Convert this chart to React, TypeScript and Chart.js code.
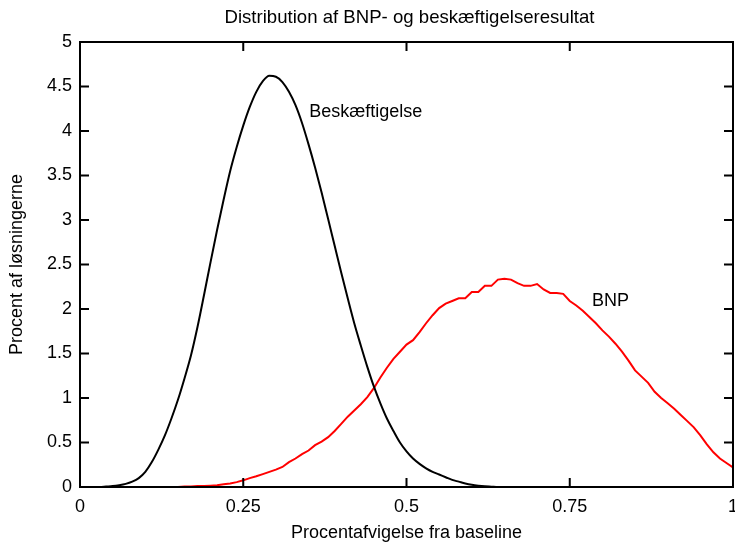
import React, { useEffect, useRef } from "react";
import { Chart, registerables } from "chart.js";

Chart.register(...registerables);

const TITLE = "Distribution af BNP- og beskæftigelseresultat";
const X_TITLE = "Procentafvigelse fra baseline";
const Y_TITLE = "Procent af løsningerne";

const X_VALUES = [
  0.0, 0.01, 0.02, 0.03, 0.04, 0.05, 0.06, 0.07, 0.08, 0.09,
  0.1, 0.11, 0.12, 0.13, 0.14, 0.15, 0.16, 0.17, 0.18, 0.19,
  0.2, 0.21, 0.22, 0.23, 0.24, 0.25, 0.26, 0.27, 0.28, 0.29,
  0.3, 0.31, 0.32, 0.33, 0.34, 0.35, 0.36, 0.37, 0.38, 0.39,
  0.4, 0.41, 0.42, 0.43, 0.44, 0.45, 0.46, 0.47, 0.48, 0.49,
  0.5, 0.51, 0.52, 0.53, 0.54, 0.55, 0.56, 0.57, 0.58, 0.59,
  0.6, 0.61, 0.62, 0.63, 0.64, 0.65, 0.66, 0.67, 0.68, 0.69,
  0.7, 0.71, 0.72, 0.73, 0.74, 0.75, 0.76, 0.77, 0.78, 0.79,
  0.8, 0.81, 0.82, 0.83, 0.84, 0.85, 0.86, 0.87, 0.88, 0.89,
  0.9, 0.91, 0.92, 0.93, 0.94, 0.95, 0.96, 0.97, 0.98, 0.99,
  1.0,
];

const BESKAEFTIGELSE = [
  0, 0, 0, 0, 0.005, 0.01, 0.02, 0.035, 0.06, 0.1,
  0.17, 0.28, 0.42, 0.58, 0.77, 0.98, 1.22, 1.48, 1.8, 2.16,
  2.53, 2.89, 3.23, 3.55, 3.82, 4.06, 4.27, 4.44, 4.56, 4.62,
  4.61, 4.55, 4.44, 4.29, 4.09, 3.85, 3.59, 3.31, 3.01, 2.71,
  2.41, 2.12, 1.84, 1.59, 1.35, 1.13, 0.94, 0.77, 0.63, 0.5,
  0.4, 0.32, 0.26, 0.21, 0.17, 0.14, 0.11, 0.08, 0.06, 0.04,
  0.025, 0.015, 0.008, 0.004, 0, 0, 0, 0, 0, 0,
  0, 0, 0, 0, 0, 0, 0, 0, 0, 0,
  0, 0, 0, 0, 0, 0, 0, 0, 0, 0,
  0, 0, 0, 0, 0, 0, 0, 0, 0, 0,
  0,
];

const BNP = [
  0, 0, 0, 0, 0, 0, 0, 0, 0, 0,
  0, 0, 0, 0, 0, 0, 0.005, 0.005, 0.01, 0.01,
  0.015, 0.02, 0.03, 0.04, 0.055, 0.075, 0.1, 0.12, 0.145, 0.17,
  0.195, 0.225, 0.28, 0.32, 0.37, 0.41, 0.47, 0.51, 0.56, 0.63,
  0.71, 0.79, 0.86, 0.93, 1.01, 1.11, 1.23, 1.34, 1.44, 1.52,
  1.6, 1.65, 1.74, 1.84, 1.93, 2.01, 2.06, 2.09, 2.12, 2.12,
  2.19, 2.19, 2.26, 2.26, 2.33, 2.34, 2.33, 2.29, 2.26, 2.26,
  2.28, 2.22, 2.18, 2.18, 2.17, 2.09, 2.04, 1.98, 1.91, 1.84,
  1.76, 1.69, 1.61, 1.52, 1.42, 1.31, 1.24, 1.17, 1.07, 1.0,
  0.94, 0.88, 0.81, 0.74, 0.67, 0.58, 0.48, 0.39, 0.32, 0.27,
  0.22,
];

const X_TICK_LABELS = ["0", "0.25", "0.5", "0.75", "1"];
const Y_TICK_LABELS = ["0", "0.5", "1", "1.5", "2", "2.5", "3", "3.5", "4", "4.5", "5"];

const LABEL_TEXTS = ["Beskæftigelse", "BNP"];
const LABEL_X = [0.351, 0.784];
const LABEL_Y = [4.21, 2.09];

const FONT_FAMILY = '"Liberation Sans", Arial, Helvetica, sans-serif';

const framePlugin = {
  id: "frameAndLabels",
  afterDatasetsDraw(chart: any) {
    const { ctx, chartArea, scales } = chart;
    const { left, right, top, bottom } = chartArea;
    const xs = scales.x;
    const ys = scales.y;
    const TL = 9;
    ctx.save();
    ctx.strokeStyle = "#000";
    ctx.lineWidth = 2;
    ctx.strokeRect(left, top, right - left, bottom - top);
    ctx.beginPath();
    xs.ticks.forEach((t: any) => {
      if (t.value <= xs.min || t.value >= xs.max) return;
      const px = xs.getPixelForValue(t.value);
      ctx.moveTo(px, bottom);
      ctx.lineTo(px, bottom - TL);
      ctx.moveTo(px, top);
      ctx.lineTo(px, top + TL);
    });
    ys.ticks.forEach((t: any) => {
      if (t.value <= ys.min || t.value >= ys.max) return;
      const py = ys.getPixelForValue(t.value);
      ctx.moveTo(left, py);
      ctx.lineTo(left + TL, py);
      ctx.moveTo(right, py);
      ctx.lineTo(right - TL, py);
    });
    ctx.stroke();
    ctx.fillStyle = "#000";
    ctx.font = "18px " + FONT_FAMILY;
    ctx.textAlign = "left";
    ctx.textBaseline = "middle";
    LABEL_TEXTS.forEach((s, i) => {
      ctx.fillText(s, xs.getPixelForValue(LABEL_X[i]), ys.getPixelForValue(LABEL_Y[i]));
    });
    ctx.font = "18.6px " + FONT_FAMILY;
    ctx.textAlign = "center";
    ctx.fillText(TITLE, (left + right) / 2 + 3, 18);
    ctx.restore();
  },
};

export default function App() {
  const canvasRef = useRef<HTMLCanvasElement | null>(null);

  useEffect(() => {
    if (!canvasRef.current) return;
    Chart.defaults.color = "#000";
    Chart.defaults.font.family = FONT_FAMILY;
    const chart = new Chart(canvasRef.current, {
      type: "line",
      data: {
        datasets: [
          {
            label: "Beskæftigelse",
            data: X_VALUES.map((x, i) => ({ x, y: BESKAEFTIGELSE[i] })),
            borderColor: "#000000",
            borderWidth: 2,
            pointRadius: 0,
            fill: false,
            cubicInterpolationMode: "monotone",
          },
          {
            label: "BNP",
            data: X_VALUES.map((x, i) => ({ x, y: BNP[i] })),
            borderColor: "#ff0000",
            borderWidth: 2,
            pointRadius: 0,
            fill: false,
            tension: 0,
          },
        ],
      },
      options: {
        responsive: false,
        animation: false,
        layout: { padding: { left: 0, right: 2, top: 42, bottom: 0 } },
        plugins: {
          legend: { display: false },
          tooltip: { enabled: false },
          title: { display: false },
        },
        scales: {
          x: {
            type: "linear",
            min: 0,
            max: 1,
            grid: { display: false, drawTicks: false, tickLength: 0 },
            border: { display: false },
            ticks: {
              stepSize: 0.25,
              padding: 9,
              maxRotation: 0,
              autoSkip: false,
              color: "#000",
              font: { size: 18, family: FONT_FAMILY },
              callback: (_v: any, i: number) => X_TICK_LABELS[i],
            },
            title: {
              display: true,
              text: X_TITLE,
              color: "#000",
              font: { size: 18, family: FONT_FAMILY },
              padding: { top: 0, bottom: 5 },
            },
            afterFit(scale: any) {
              scale.height = 62;
              scale.paddingLeft = 0;
              scale.paddingRight = 0;
            },
          },
          y: {
            type: "linear",
            min: 0,
            max: 5,
            grid: { display: false, drawTicks: false, tickLength: 0 },
            border: { display: false },
            ticks: {
              stepSize: 0.5,
              padding: 8,
              autoSkip: false,
              color: "#000",
              font: { size: 18, family: FONT_FAMILY },
              callback: (_v: any, i: number) => Y_TICK_LABELS[i],
            },
            title: {
              display: true,
              text: Y_TITLE,
              color: "#000",
              font: { size: 18, family: FONT_FAMILY },
              padding: { top: 6, bottom: 0 },
            },
            afterFit(scale: any) {
              scale.width = 80;
              scale.paddingTop = 0;
              scale.paddingBottom = 0;
            },
          },
        },
      },
      plugins: [framePlugin],
    });
    return () => chart.destroy();
  }, []);

  return (
    <div style={{ position: "fixed", left: 0, top: 0, width: 735, height: 549, background: "#fff" }}>
      <canvas ref={canvasRef} width={735} height={549} style={{ display: "block", width: 735, height: 549 }} />
    </div>
  );
}
